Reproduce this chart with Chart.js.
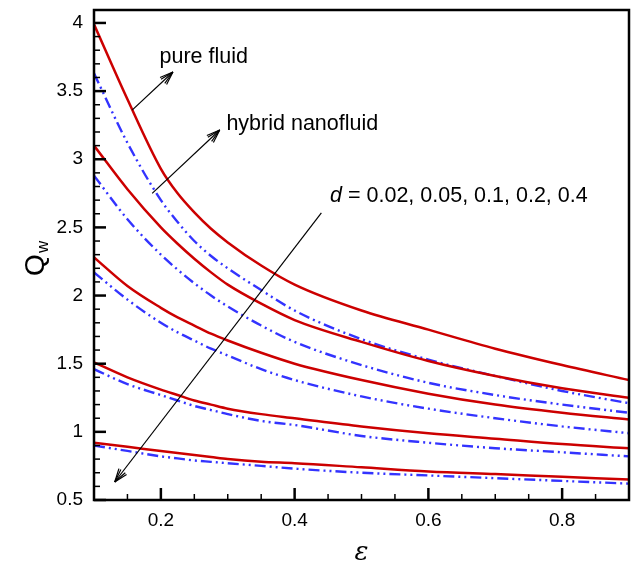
<!DOCTYPE html>
<html>
<head>
<meta charset="utf-8">
<script src="https://cdn.jsdelivr.net/npm/chart.js@4"></script>
<style>
  body { margin: 0; background: #fff; }
  #wrap { width: 632px; height: 566px; position: relative; }
</style>
</head>
<body>
<div id="wrap"><canvas id="c"></canvas></div>
<script>
// epsilon values where the curves were read
const eps = [0.1, 0.15, 0.2, 0.225, 0.25, 0.275, 0.3, 0.35, 0.4, 0.5, 0.6, 0.7, 0.8, 0.9];

// pure fluid, d = 0.02 ... 0.4
const pure1 = [3.99, 3.44, 2.93, 2.75, 2.61, 2.49, 2.39, 2.22, 2.08, 1.89, 1.75, 1.61, 1.49, 1.38];
const pure2 = [3.10, 2.78, 2.50, 2.38, 2.27, 2.17, 2.08, 1.94, 1.82, 1.66, 1.52, 1.41, 1.32, 1.25];
const pure3 = [2.28, 2.07, 1.91, 1.84, 1.78, 1.72, 1.67, 1.58, 1.50, 1.38, 1.28, 1.20, 1.14, 1.09];
const pure4 = [1.51, 1.40, 1.31, 1.27, 1.23, 1.20, 1.17, 1.13, 1.10, 1.04, 0.99, 0.95, 0.91, 0.88];
const pure5 = [0.92, 0.89, 0.86, 0.845, 0.83, 0.815, 0.80, 0.78, 0.77, 0.74, 0.71, 0.69, 0.67, 0.65];

// hybrid nanofluid, d = 0.02 ... 0.4
const hyb1 = [3.63, 3.12, 2.70, 2.54, 2.40, 2.29, 2.20, 2.04, 1.89, 1.68, 1.53, 1.41, 1.30, 1.21];
const hyb2 = [2.88, 2.56, 2.30, 2.19, 2.09, 2.00, 1.92, 1.78, 1.66, 1.49, 1.36, 1.27, 1.20, 1.14];
const hyb3 = [2.17, 1.97, 1.80, 1.73, 1.67, 1.61, 1.56, 1.46, 1.38, 1.26, 1.17, 1.10, 1.04, 0.99];
const hyb4 = [1.46, 1.35, 1.27, 1.23, 1.19, 1.16, 1.13, 1.08, 1.05, 0.97, 0.92, 0.88, 0.85, 0.82];
const hyb5 = [0.90, 0.86, 0.82, 0.805, 0.79, 0.78, 0.77, 0.75, 0.73, 0.70, 0.68, 0.66, 0.64, 0.62];

const xTicks = [0.2, 0.4, 0.6, 0.8];
const yTicks = [0.5, 1, 1.5, 2, 2.5, 3, 3.5, 4];

// annotation arrows in data units: [x0, y0, x1, y1] (head at x1,y1)
const arrows = [
  [0.157, 3.36, 0.218, 3.64],
  [0.187, 2.75, 0.288, 3.215],
  [0.440, 2.606, 0.131, 0.632]
];

const FONT = '"Liberation Sans", Arial, sans-serif';

function pts(arr) {
  return arr.map((v, i) => ({ x: eps[i], y: v }));
}

const pureStyle = { borderColor: '#cc0000', borderWidth: 2.5 };
const hybStyle = { borderColor: '#3333ff', borderWidth: 2.4, borderDash: [11, 4, 2, 4, 2, 4] };

const datasets = [];
[pure1, pure2, pure3, pure4, pure5].forEach((a, i) => {
  datasets.push(Object.assign({ label: 'pure ' + i, data: pts(a) }, pureStyle));
});
[hyb1, hyb2, hyb3, hyb4, hyb5].forEach((a, i) => {
  datasets.push(Object.assign({ label: 'hybrid ' + i, data: pts(a) }, hybStyle));
});

// draw ticks, frame, arrows, and labels
const decor = {
  id: 'decor',
  afterDraw(chart) {
    const ctx = chart.ctx;
    const a = chart.chartArea;
    const xs = chart.scales.x, ys = chart.scales.y;
    ctx.save();
    ctx.strokeStyle = '#000';

    // minor + major ticks pointing inward
    for (let k = 2; k <= 18; k++) {
      const major = k % 4 === 0;
      const px = xs.getPixelForValue(k * 0.05);
      ctx.lineWidth = major ? 2.5 : 1.5;
      ctx.beginPath();
      ctx.moveTo(px, a.bottom);
      ctx.lineTo(px, a.bottom - (major ? 12 : 6));
      ctx.stroke();
    }
    for (let k = 5; k <= 40; k++) {
      const major = k % 5 === 0;
      const py = ys.getPixelForValue(k * 0.1);
      ctx.lineWidth = major ? 2.5 : 1.5;
      ctx.beginPath();
      ctx.moveTo(a.left, py);
      ctx.lineTo(a.left + (major ? 12 : 6), py);
      ctx.stroke();
    }

    // frame
    ctx.lineWidth = 2.5;
    ctx.strokeRect(a.left, a.top, a.right - a.left, a.bottom - a.top);

    // arrows
    ctx.lineWidth = 1.2;
    arrows.forEach(([x0, y0, x1, y1]) => {
      const p0x = xs.getPixelForValue(x0), p0y = ys.getPixelForValue(y0);
      const p1x = xs.getPixelForValue(x1), p1y = ys.getPixelForValue(y1);
      ctx.beginPath();
      ctx.moveTo(p0x, p0y);
      ctx.lineTo(p1x, p1y);
      ctx.stroke();
      const ang = Math.atan2(p1y - p0y, p1x - p0x);
      const L = 14;
      for (const da of [0.35, -0.35, 0.2, -0.2]) {
        ctx.beginPath();
        ctx.moveTo(p1x, p1y);
        ctx.lineTo(p1x - L * Math.cos(ang + da), p1y - L * Math.sin(ang + da));
        ctx.stroke();
      }
    });

    // annotation texts
    ctx.fillStyle = '#000';
    ctx.textBaseline = 'middle';
    ctx.textAlign = 'left';
    ctx.font = '21.5px ' + FONT;
    ctx.fillText('pure fluid', xs.getPixelForValue(0.198), ys.getPixelForValue(3.75));
    ctx.fillText('hybrid nanofluid', xs.getPixelForValue(0.298), ys.getPixelForValue(3.26));
    let tx = xs.getPixelForValue(0.453);
    const ty = ys.getPixelForValue(2.73);
    ctx.font = 'italic 21.5px ' + FONT;
    ctx.fillText('d', tx, ty);
    tx += ctx.measureText('d').width;
    ctx.font = '21.5px ' + FONT;
    ctx.fillText(' = 0.02, 0.05, 0.1, 0.2, 0.4', tx, ty);

    // axis titles
    ctx.save();
    ctx.translate(44, 265);
    ctx.rotate(-Math.PI / 2);
    ctx.textBaseline = 'alphabetic';
    ctx.font = '28px ' + FONT;
    ctx.fillText('Q', -11, 0);
    ctx.font = '17px ' + FONT;
    ctx.fillText('w', 12, 4);
    ctx.restore();

    ctx.font = 'italic 26px "DejaVu Serif", "Liberation Serif", serif';
    ctx.textAlign = 'center';
    ctx.fillText('\u03b5', (a.left + a.right) / 2, 553);
    ctx.restore();
  }
};

const chart = new Chart(document.getElementById('c'), {
  type: 'line',
  data: { datasets: datasets },
  options: {
    responsive: true,
    maintainAspectRatio: false,
    animation: false,
    layout: { padding: { top: 10, right: 3, left: 0, bottom: 0 } },
    elements: {
      point: { radius: 0 },
      line: { cubicInterpolationMode: 'monotone', fill: false }
    },
    plugins: { legend: { display: false }, tooltip: { enabled: false } },
    scales: {
      x: {
        type: 'linear',
        min: 0.1,
        max: 0.9,
        grid: { display: false, drawTicks: false },
        border: { display: false },
        afterBuildTicks: s => { s.ticks = xTicks.map(v => ({ value: v })); },
        afterFit: s => { s.height = 66; s.paddingLeft = 0; s.paddingRight = 0; },
        ticks: {
          padding: 9,
          color: '#000',
          font: { family: FONT, size: 19 },
          callback: v => String(v)
        }
      },
      y: {
        type: 'linear',
        min: 0.5,
        max: 4.095,
        grid: { display: false, drawTicks: false },
        border: { display: false },
        afterBuildTicks: s => { s.ticks = yTicks.map(v => ({ value: v })); },
        afterFit: s => { s.width = 94; s.paddingTop = 0; s.paddingBottom = 0; },
        ticks: {
          padding: 11,
          color: '#000',
          font: { family: FONT, size: 19 },
          callback: v => String(v)
        }
      }
    }
  },
  plugins: [decor]
});
</script>
</body>
</html>
